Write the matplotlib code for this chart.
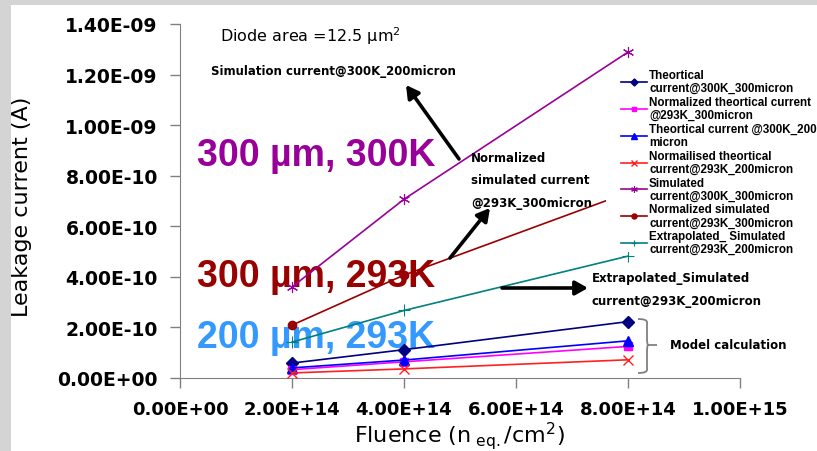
import numpy as np
import matplotlib
matplotlib.use('Agg')
import matplotlib.pyplot as plt
from matplotlib.path import Path
from matplotlib.patches import PathPatch, Rectangle, FancyArrowPatch

plt.rcParams['font.family'] = ['Liberation Sans', 'DejaVu Sans']

# fluence points (n_eq/cm^2)
fluence = [2e14, 4e14, 8e14]

theo_300K_300 = [0.59e-10, 1.12e-10, 2.23e-10]
norm_theo_293K_300 = [0.33e-10, 0.64e-10, 1.25e-10]
theo_300K_200 = [0.40e-10, 0.71e-10, 1.47e-10]
norm_theo_293K_200 = [0.20e-10, 0.36e-10, 0.72e-10]
sim_300K_300 = [3.60e-10, 7.07e-10, 1.289e-9]
norm_sim_293K_300 = [2.09e-10, 4.07e-10, 7.33e-10]
extra_sim_293K_200 = [1.42e-10, 2.67e-10, 4.82e-10]

labels = [
    'Theortical\ncurrent@300K_300micron',
    'Normalized theortical current\n@293K_300micron',
    'Theortical current @300K_200\nmicron',
    'Normailised theortical\ncurrent@293K_200micron',
    'Simulated\ncurrent@300K_300micron',
    'Normalized simulated\ncurrent@293K_300micron',
    'Extrapolated_ Simulated\ncurrent@293K_200micron',
]

xticks = [0, 2e14, 4e14, 6e14, 8e14, 1e15]
xticklabels = ['0.00E+00', '2.00E+14', '4.00E+14', '6.00E+14', '8.00E+14', '1.00E+15']
yticks = [0, 2e-10, 4e-10, 6e-10, 8e-10, 1e-9, 1.2e-9, 1.4e-9]
yticklabels = ['0.00E+00', '2.00E-10', '4.00E-10', '6.00E-10', '8.00E-10',
               '1.00E-09', '1.20E-09', '1.40E-09']

W, H = 817, 452
fig = plt.figure(figsize=(W / 100, H / 100), dpi=100)


def fx(px):
    return px / W


def fy(py):
    return 1 - py / H


# faded border strips
fig.patches.append(Rectangle((0, 0), fx(11), 1, transform=fig.transFigure,
                             facecolor='#d4d4d4', edgecolor='none', zorder=0))
fig.patches.append(Rectangle((0, fy(6)), 1, 6 / H, transform=fig.transFigure,
                             facecolor='#d4d4d4', edgecolor='none', zorder=0))

ax = fig.add_axes([fx(180), fy(379), (740 - 180) / W, (379 - 25) / H])
ax.set_xlim(0, 1e15)
ax.set_ylim(0, 1.4e-9)

series = [
    (theo_300K_300, dict(color='#000080', marker='D', ms=6)),
    (norm_theo_293K_300, dict(color='#ff00ff', marker='s', ms=6)),
    (theo_300K_200, dict(color='#0000ff', marker='^', ms=7)),
    (norm_theo_293K_200, dict(color='#ff2020', marker='x', ms=7, mew=1)),
    (sim_300K_300, dict(color='#990099', marker=(6, 2, 0), ms=8, mew=0.8)),
    (norm_sim_293K_300, dict(color='#990000', marker='o', ms=6)),
    (extra_sim_293K_200, dict(color='#008080', marker='+', ms=8, mew=0.8)),
]
handles = []
for vals, st in series:
    h, = ax.plot(fluence, vals, lw=1.2, zorder=3, **st)
    handles.append(h)

for s in ['top', 'right']:
    ax.spines[s].set_visible(False)
for s in ['left', 'bottom']:
    ax.spines[s].set_color('#808080')
ax.tick_params(direction='out', length=7, width=1, color='#808080')
ax.tick_params(axis='x', pad=9)
ax.tick_params(axis='y', pad=9)
ax.set_xticks(xticks)
ax.set_xticklabels(xticklabels, fontsize=13, fontweight='bold', family='DejaVu Sans')
ax.set_yticks(yticks)
ax.set_yticklabels(yticklabels, fontsize=13.5, fontweight='bold', family='DejaVu Sans')
ax.set_ylabel('Leakage current (A)', fontsize=16, family='DejaVu Sans')
ax.yaxis.set_label_coords(fx(32), fy(207), transform=fig.transFigure)
fig.text(fx(459), fy(443), 'Fluence (n$_{\\ \\mathrm{eq.}}$/cm$^{2}$)', fontsize=16,
         family='DejaVu Sans', ha='center', va='baseline')

# white box behind the legend hides the line ends under it
fig.patches.append(Rectangle((fx(606), fy(253)), (817 - 606) / W, (253 - 68) / H,
                             transform=fig.transFigure, facecolor='white',
                             edgecolor='none', zorder=4))
leg = fig.legend(handles, labels, loc='upper left',
                 bbox_to_anchor=(fx(621), fy(70)), prop=dict(size=8.4, weight='bold'),
                 frameon=False, handlelength=2.2, handletextpad=0.2,
                 labelspacing=0.17, borderpad=0.0, borderaxespad=0.0,
                 markerscale=0.6)
for t in leg.get_texts():
    t.set_linespacing(1.1)

# big annotations, drawn beneath the curves
big = dict(fontsize=27, fontweight='bold', transform=fig.transFigure,
           va='center', ha='left', zorder=1)
ax.text(fx(197), fy(156), '300 µm, 300K', color='#990099', **big)
ax.text(fx(197), fy(277), '300 µm, 293K', color='#990000', **big)
ax.text(fx(197), fy(338), '200 µm, 293K', color='#3399ff', **big)

note = dict(fontsize=8.5, fontweight='bold', transform=fig.transFigure, va='center',
            ha='left', family='DejaVu Sans')
fig.text(fx(220), fy(36), 'Diode area =12.5 µm$^2$', fontsize=11.5,
         transform=fig.transFigure, va='center', family='DejaVu Sans')
fig.text(fx(211), fy(72), 'Simulation current@300K_200micron', **note)
fig.text(fx(471), fy(181), 'Normalized\nsimulated current\n@293K_300micron',
         linespacing=2.0, **note)
fig.text(fx(592), fy(290), 'Extrapolated_Simulated\ncurrent@293K_200micron',
         linespacing=2.0, **note)
fig.text(fx(670), fy(346), 'Model calculation', **note)


def fig_arrow(x0, y0, x1, y1):
    fig.add_artist(FancyArrowPatch(
        (fx(x0), fy(y0)), (fx(x1), fy(y1)), transform=fig.transFigure,
        arrowstyle='-|>,head_length=7.5,head_width=4.2', lw=2.6, color='black',
        shrinkA=0, shrinkB=0))


fig_arrow(459, 160, 406, 86)
fig_arrow(450, 259, 490, 209)
fig_arrow(502, 289, 588, 289)

# curly brace for the model curves
bx, top, bot, tip = 638, 320, 374, 346
pts = [(bx, top), (bx + 10, top), (bx + 9, top + 4), (bx + 9, tip - 6),
       (bx + 9, tip - 1), (bx + 10, tip), (bx + 19, tip),
       (bx + 10, tip), (bx + 9, tip + 1), (bx + 9, tip + 6),
       (bx + 9, bot - 4), (bx + 10, bot), (bx, bot)]
verts = [(fx(x), fy(y)) for x, y in pts]
codes = [Path.MOVETO, Path.CURVE3, Path.CURVE3, Path.LINETO,
         Path.CURVE3, Path.CURVE3, Path.LINETO,
         Path.MOVETO, Path.CURVE3, Path.CURVE3, Path.LINETO,
         Path.CURVE3, Path.CURVE3]
fig.add_artist(PathPatch(Path(verts, codes), transform=fig.transFigure,
                         fill=False, edgecolor='#808080', lw=1.3))

fig.savefig('out.png', dpi=100)
